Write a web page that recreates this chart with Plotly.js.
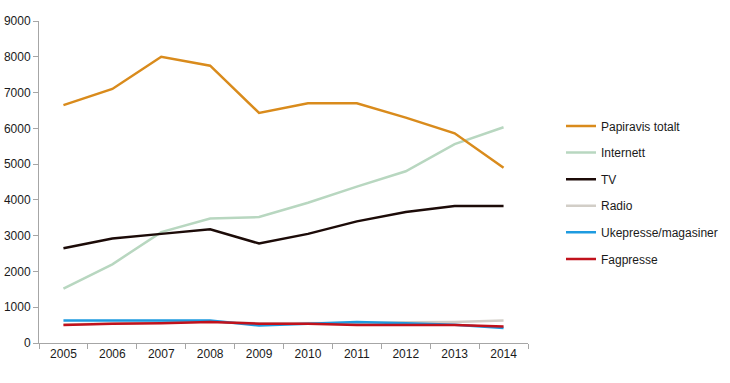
<!DOCTYPE html>
<html><head><meta charset="utf-8">
<script src="https://cdn.plot.ly/plotly-3.0.1.min.js"></script>
<style>html,body{margin:0;padding:0;background:#fff}</style>
</head><body><div id="chart" style="width:730px;height:383px"></div>
<script>
const years = ["2005","2006","2007","2008","2009","2010","2011","2012","2013","2014"];
const papiravis = [6650, 7100, 8000, 7750, 6430, 6700, 6700, 6300, 5860, 4900];
const internett = [1520, 2200, 3100, 3480, 3520, 3920, 4370, 4800, 5560, 6030];
const tv = [2650, 2920, 3050, 3180, 2780, 3050, 3400, 3660, 3830, 3830];
const radio = [520, 550, 560, 600, 550, 550, 560, 580, 590, 630];
const ukepresse = [630, 630, 630, 630, 490, 540, 590, 550, 510, 420];
const fagpresse = [500, 540, 550, 590, 540, 540, 500, 500, 500, 460];
const names = ["Papiravis totalt","Internett","TV","Radio","Ukepresse/magasiner","Fagpresse"];
const colors = ["#D98B1C","#B8D7C0","#1C0B08","#D2CEC7","#1E9BE0","#C1121C"];
const series = [papiravis, internett, tv, radio, ukepresse, fagpresse];
const drawOrder = [3,4,5,1,2,0];
const traces = drawOrder.map(i => ({
  x: years, y: series[i], name: names[i], type: "scatter", mode: "lines",
  line: {color: colors[i], width: 2.5}, legendrank: i+1, legendgroup: "g"+i
}));
const layout = {
  width: 730, height: 383,
  margin: {l: 39, r: 202, t: 21, b: 40},
  paper_bgcolor: "#fff", plot_bgcolor: "#fff",
  font: {family: "Liberation Sans, Arial, sans-serif", size: 12, color: "#1a1a1a"},
  showlegend: true,
  legend: {xref: "container", yref: "container", x: 0.7685, y: 0.709,
    xanchor: "left", yanchor: "top", traceorder: "grouped",
    tracegroupgap: 7.6, itemwidth: 30, font: {size: 12, color: "#1a1a1a"}},
  xaxis: {type: "category", showgrid: false, zeroline: false, showline: true,
    linecolor: "#A6A6A6", linewidth: 1, ticks: "outside", tickson: "boundaries",
    ticklen: 5, tickcolor: "#A6A6A6", range: [-0.5, 9.5], tickfont: {size: 12}},
  yaxis: {range: [0, 9000], dtick: 1000, showgrid: false, zeroline: false,
    showline: true, linecolor: "#A6A6A6", linewidth: 1, ticks: "outside",
    ticklen: 5, tickcolor: "#A6A6A6", tickfont: {size: 12}}
};
Plotly.newPlot("chart", traces, layout, {displayModeBar: false});
</script></body></html>
